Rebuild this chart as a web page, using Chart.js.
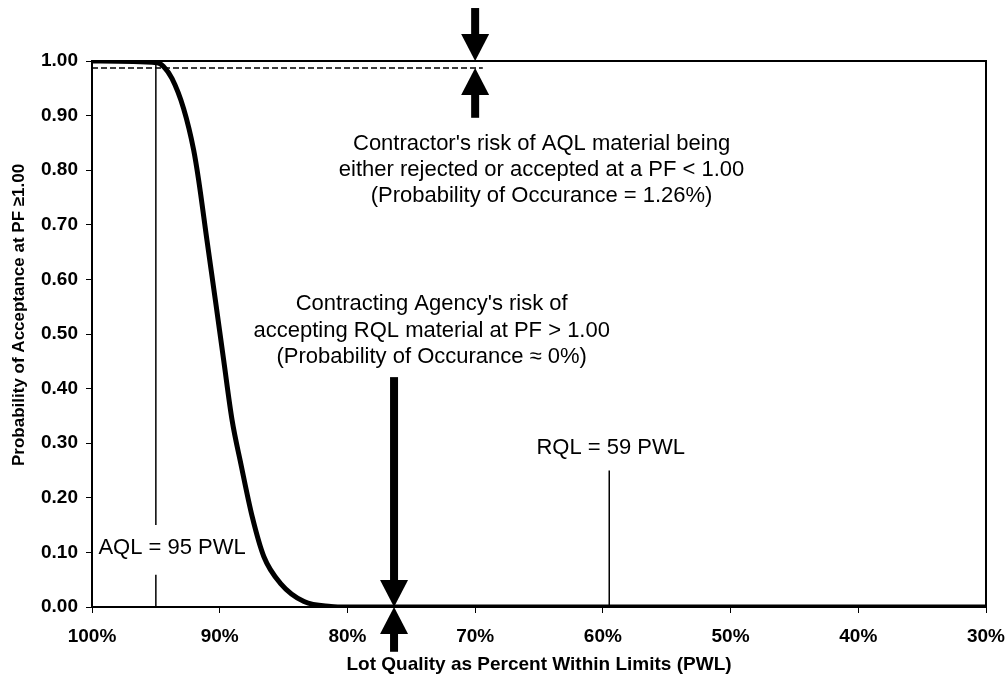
<!DOCTYPE html>
<html>
<head>
<meta charset="utf-8">
<script src="https://cdn.jsdelivr.net/npm/chart.js@4.4.1/dist/chart.umd.min.js"></script>
<style>
  html, body { margin: 0; padding: 0; background: #fff; }
  #wrap { width: 1006px; height: 682px; }
</style>
</head>
<body>
<div id="wrap"><canvas id="ocChart"></canvas></div>
<script>
// OC curve: lot quality (PWL %) vs probability of acceptance
const pwl = [100, 94.9, 94.4, 93.74, 92.83, 92.04, 91.65, 91.0, 90.34, 89.69, 89.03, 88.35, 87.45, 86.54, 85.23, 83.4, 81.3, 80, 30];
const pAccept = [1, 0.997, 0.990, 0.968, 0.913, 0.837, 0.782, 0.672, 0.562, 0.452, 0.342, 0.263, 0.165, 0.092, 0.043, 0.010, 0.001, 0, 0];

// contractor's risk level (1 - 1.26%)
const riskX = [100, 69.4];
const riskY = [0.9874, 0.9874];

// AQL / RQL marker lines
const aqlX = 95;
const aqlLow = [0, 0.059];
const aqlHigh = [0.15, 1];
const rqlX = 59.5;
const rqlY = [0, 0.25];

// arrows: x, start value, tip value
const arrowX = [70, 70, 76.35, 76.35];
const arrowFrom = [1.097, 0.896, 0.421, -0.082];
const arrowTo = [1.0, 0.9874, 0, 0];

// axis ticks
const xTicks = [100, 90, 80, 70, 60, 50, 40, 30];
const yTicks = [0, 0.1, 0.2, 0.3, 0.4, 0.5, 0.6, 0.7, 0.8, 0.9, 1.0];

const FONT = "'Liberation Sans', Arial, sans-serif";
const Y_TITLE = 'Probability of Acceptance at PF \u22651.00';

// text notes placed in data coordinates
const notes = [
    { x: 64.8, y: 0.848, align: 'center', text: "Contractor's risk of AQL material being" },
    { x: 64.8, y: 0.800, align: 'center', text: 'either rejected or accepted at a PF < 1.00' },
    { x: 64.8, y: 0.753, align: 'center', text: '(Probability of Occurance = 1.26%)' },
    { x: 73.4, y: 0.555, align: 'center', text: "Contracting Agency's risk of" },
    { x: 73.4, y: 0.505, align: 'center', text: 'accepting RQL material at PF > 1.00' },
    { x: 73.4, y: 0.458, align: 'center', text: '(Probability of Occurance \u2248 0%)' },
    { x: 65.2, y: 0.291, align: 'left', text: 'RQL = 59 PWL' },
    { x: 99.5, y: 0.108, align: 'left', text: 'AQL = 95 PWL' }
];

function pts(xs, ys) {
    return xs.map((v, i) => ({ x: v, y: ys[i] }));
}

function drawArrow(ctx, px, y0, y1) {
    const dir = y1 > y0 ? 1 : -1;
    const headLen = 27;
    const halfHead = 14;
    const shaft = 8;
    const base = y1 - dir * headLen;
    ctx.fillRect(px - shaft / 2, Math.min(y0, base), shaft, Math.abs(base - y0));
    ctx.beginPath();
    ctx.moveTo(px - halfHead, base);
    ctx.lineTo(px + halfHead, base);
    ctx.lineTo(px, y1);
    ctx.closePath();
    ctx.fill();
}

const overlay = {
    id: 'overlay',
    afterDatasetsDraw(chart) {
        const { ctx, chartArea: a, scales: { x, y } } = chart;
        ctx.save();
        ctx.strokeStyle = '#000';
        ctx.lineWidth = 2;
        ctx.strokeRect(a.left, a.top, a.right - a.left, a.bottom - a.top);

        ctx.fillStyle = '#000';
        arrowX.forEach((v, i) => {
            drawArrow(ctx, x.getPixelForValue(v), y.getPixelForValue(arrowFrom[i]), y.getPixelForValue(arrowTo[i]));
        });

        ctx.font = '22px ' + FONT;
        ctx.textBaseline = 'middle';
        notes.forEach(n => {
            ctx.textAlign = n.align;
            ctx.fillText(n.text, x.getPixelForValue(n.x), y.getPixelForValue(n.y));
        });

        // y axis title, sits a little above the middle of the axis like the original
        ctx.translate(19, y.getPixelForValue(0.535));
        ctx.rotate(-Math.PI / 2);
        ctx.textAlign = 'center';
        ctx.font = 'bold 17px ' + FONT;
        ctx.fillText(Y_TITLE, 0, 0);
        ctx.restore();
    }
};

const lineStyle = { borderColor: '#000', pointRadius: 0, fill: false, showLine: true };

new Chart(document.getElementById('ocChart'), {
    type: 'scatter',
    data: {
        datasets: [
            { ...lineStyle, data: pts(pwl, pAccept), borderWidth: 5, cubicInterpolationMode: 'monotone' },
            { ...lineStyle, data: pts(riskX, riskY), borderWidth: 1.5, borderDash: [6, 3] },
            { ...lineStyle, data: pts([aqlX, aqlX], aqlLow), borderWidth: 1.5 },
            { ...lineStyle, data: pts([aqlX, aqlX], aqlHigh), borderWidth: 1.5 },
            { ...lineStyle, data: pts([rqlX, rqlX], rqlY), borderWidth: 1.5 }
        ]
    },
    options: {
        responsive: true,
        maintainAspectRatio: false,
        animation: false,
        layout: { padding: { top: 61, right: 20, left: 0, bottom: 0 } },
        plugins: {
            legend: { display: false },
            tooltip: { enabled: false }
        },
        scales: {
            x: {
                type: 'linear',
                reverse: true,
                min: 30,
                max: 100,
                afterBuildTicks: s => { s.ticks = xTicks.map(v => ({ value: v })); },
                afterFit: s => {
                    s.height = 75;
                    s.paddingLeft = 0;
                    s.paddingRight = 0;
                },
                border: { color: '#000', width: 2 },
                grid: { drawOnChartArea: false, drawTicks: true, tickLength: 6, color: '#000' },
                ticks: {
                    color: '#000',
                    padding: 12,
                    maxRotation: 0,
                    font: { family: FONT, size: 19, weight: 'bold' },
                    callback: v => v + '%'
                },
                title: {
                    display: true,
                    text: 'Lot Quality as Percent Within Limits (PWL)',
                    color: '#000',
                    padding: { top: 0, bottom: 6 },
                    font: { family: FONT, size: 19, weight: 'bold' }
                }
            },
            y: {
                min: 0,
                max: 1,
                afterBuildTicks: s => { s.ticks = yTicks.map(v => ({ value: v })); },
                afterFit: s => { s.width = 92; },
                border: { color: '#000', width: 2 },
                grid: { drawOnChartArea: false, drawTicks: true, tickLength: 6, color: '#000' },
                ticks: {
                    color: '#000',
                    padding: 8,
                    font: { family: FONT, size: 19, weight: 'bold' },
                    callback: v => v.toFixed(2)
                }
            }
        }
    },
    plugins: [overlay]
});
</script>
</body>
</html>
